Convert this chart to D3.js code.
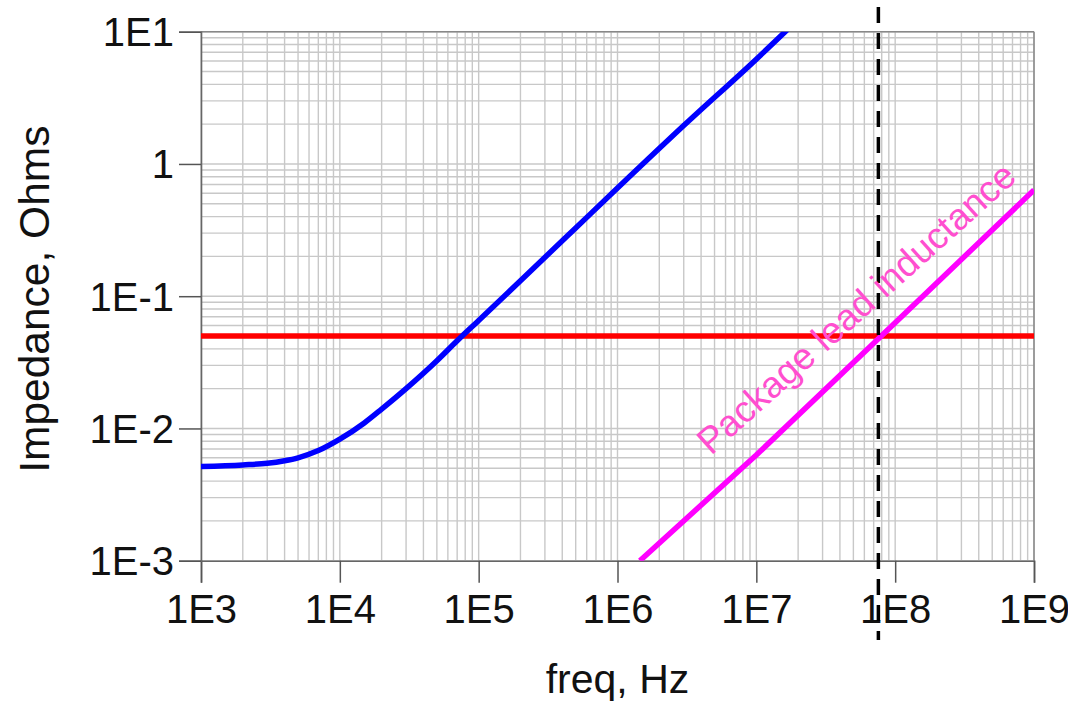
<!DOCTYPE html>
<html><head><meta charset="utf-8">
<script src="https://cdn.jsdelivr.net/npm/d3@7"></script>
<style>html,body{margin:0;padding:0;background:#fff}svg{display:block}</style>
</head><body>
<script>
// ---- data ----
const xTickLabels = ["1E3","1E4","1E5","1E6","1E7","1E8","1E9"];
const xTickValues = [1e3,1e4,1e5,1e6,1e7,1e8,1e9];
const yTickLabels = ["1E-3","1E-2","1E-1","1","1E1"];
const yTickValues = [1e-3,1e-2,1e-1,1,1e1];

const blueFreq = [1e3, 2e3, 3e3, 4e3, 5e3, 7e3, 1e4, 1.5e4, 2e4, 3e4, 5e4, 7e4, 1e5, 2e5, 5e5, 1e6, 3e6, 1e7, 2e7];
const blueZ    = [0.00515, 0.0053, 0.00545, 0.0057, 0.0060, 0.0068, 0.0083, 0.0110, 0.0140, 0.0200, 0.0325, 0.0460, 0.0655, 0.131, 0.328, 0.657, 1.95, 6.2, 12.4];

const redFreq = [1e3, 1e9];
const redZ    = [0.05, 0.05];

const pkgFreq = [1.45e6, 1e7, 1e8, 1e9];
const pkgZ    = [1.0e-3, 6.3e-3, 6.3e-2, 0.635];

const markerFreq = 7.57e7;
const pkgLabel = "Package lead inductance";
const xTitle = "freq, Hz";
const yTitle = "Impedance, Ohms";

// ---- layout ----
const W = 1068, H = 701;
const L = 201, R = 1034, T = 31.7, B = 560.7;

const svg = d3.select("body").append("svg").attr("width", W).attr("height", H);
svg.append("rect").attr("width", W).attr("height", H).attr("fill", "#fff");

const x = d3.scaleLog().domain([1e3, 1e9]).range([L, R]);
const y = d3.scaleLog().domain([1e-3, 1e1]).range([B, T]);

// grid
const g = svg.append("g");
g.selectAll("line.vx").data(x.ticks()).join("line")
  .attr("x1", d => x(d)).attr("x2", d => x(d)).attr("y1", T).attr("y2", B)
  .attr("stroke", "#c8c8c8").attr("stroke-width", 1.4);
g.selectAll("line.hy").data(y.ticks()).join("line")
  .attr("y1", d => y(d)).attr("y2", d => y(d)).attr("x1", L).attr("x2", R)
  .attr("stroke", "#c8c8c8").attr("stroke-width", 1.4);

// frame top/right
svg.append("line").attr("x1", L).attr("x2", R).attr("y1", T).attr("y2", T).attr("stroke", "#888").attr("stroke-width", 1.5);
svg.append("line").attr("x1", R).attr("x2", R).attr("y1", T).attr("y2", B).attr("stroke", "#888").attr("stroke-width", 1.5);

// axes
const font = "'Liberation Sans', Arial, Helvetica, sans-serif";
const xAxis = svg.append("g").attr("transform", `translate(0,${B})`)
  .call(d3.axisBottom(x).tickValues(xTickValues).tickSize(22).tickPadding(0).tickFormat((d,i) => xTickLabels[i]));
const yAxis = svg.append("g").attr("transform", `translate(${L},0)`)
  .call(d3.axisLeft(y).tickValues(yTickValues).tickSize(22).tickPadding(0).tickFormat((d,i) => yTickLabels[i]));
[xAxis, yAxis].forEach(a => {
  a.select(".domain").attr("stroke", "#666").attr("stroke-width", 1.6);
  a.selectAll(".tick line").attr("stroke", "#555").attr("stroke-width", 1.5);
  a.selectAll(".tick text").attr("font-family", font).attr("font-size", 40).attr("fill", "#111");
});
xAxis.selectAll(".tick text").attr("dy", null).attr("y", 62);
yAxis.selectAll(".tick text").attr("dy", null).attr("x", -27).attr("y", 14);

// titles
svg.append("text").attr("x", (L + R) / 2).attr("y", 693).attr("text-anchor", "middle")
  .attr("font-family", font).attr("font-size", 41).attr("fill", "#111").text(xTitle);
svg.append("text").attr("transform", `translate(49,${(T + B) / 2 + 3}) rotate(-90)`).attr("text-anchor", "middle")
  .attr("font-family", font).attr("font-size", 42.5).attr("fill", "#111").text(yTitle);

// clip
svg.append("clipPath").attr("id", "clip").append("rect").attr("x", L).attr("y", T).attr("width", R - L).attr("height", B - T);
const plot = svg.append("g").attr("clip-path", "url(#clip)");

const line = d3.line().x(d => x(d[0])).y(d => y(d[1]));
plot.append("path").datum(redFreq.map((f, i) => [f, redZ[i]])).attr("d", line)
  .attr("fill", "none").attr("stroke", "#ff0000").attr("stroke-width", 5.5);
plot.append("path").datum(blueFreq.map((f, i) => [f, blueZ[i]])).attr("d", d3.line().x(d => x(d[0])).y(d => y(d[1])).curve(d3.curveMonotoneX))
  .attr("fill", "none").attr("stroke", "#0000ff").attr("stroke-width", 5.5);
plot.append("path").datum(pkgFreq.map((f, i) => [f, pkgZ[i]])).attr("d", line)
  .attr("fill", "none").attr("stroke", "#ff00ff").attr("stroke-width", 5.5);

// marker dashed line
svg.append("line").attr("x1", x(markerFreq)).attr("x2", x(markerFreq)).attr("y1", 7).attr("y2", 640)
  .attr("stroke", "#000").attr("stroke-width", 3.5).attr("stroke-dasharray", "16,10");

// package label
svg.append("text").attr("transform", "translate(711,456) rotate(-42)")
  .attr("font-family", font).attr("font-size", 37).attr("fill", "#ff4fcf").text(pkgLabel);
</script>
</body></html>
